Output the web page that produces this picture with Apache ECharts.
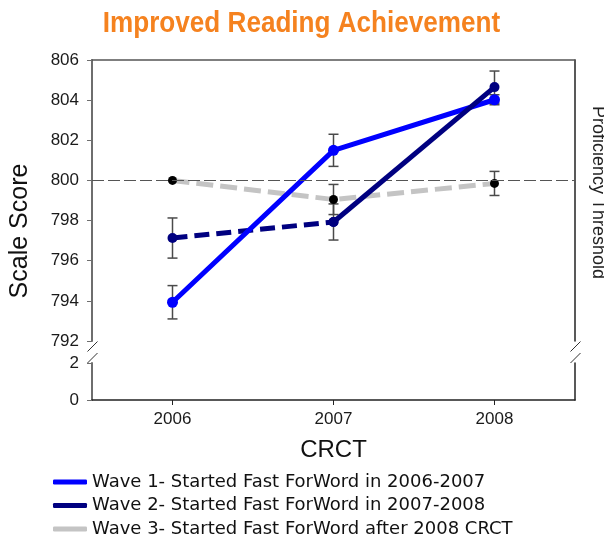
<!DOCTYPE html>
<html>
<head>
<meta charset="utf-8">
<script src="https://cdn.jsdelivr.net/npm/echarts@6/dist/echarts.min.js"></script>
<style>
html,body{margin:0;padding:0;background:#fff;}
#c{width:604px;height:537px;}
</style>
</head>
<body>
<div id="c"></div>
<script>
const titleText = 'Improved Reading Achievement';
const categories = ['2006', '2007', '2008'];
const seriesNames = [
  'Wave 1- Started Fast ForWord in 2006-2007',
  'Wave 2- Started Fast ForWord in 2007-2008',
  'Wave 3- Started Fast ForWord after 2008 CRCT'
];
const wave1 = [793.93, 801.5, 804.02];
const wave1Err = [0.83, 0.8, 0.25];
const wave2 = [797.13, 797.93, 804.65];
const wave2Err = [1.0, 0.9, 0.8];
const wave3 = [800.0, 799.05, 799.85];
const wave3Err = [0, 0.75, 0.6];
const threshold = 800;
const upperTicks = [792, 806, 2];
const lowerTicks = [0, 2, 2];

const FONT = "'Liberation Sans', Arial, sans-serif";
const LEGEND_FONT = "'DejaVu Sans', 'Liberation Sans', sans-serif";
const AX = '#6e6e6e';

const errData = [];
[[wave1, wave1Err], [wave2, wave2Err], [wave3, wave3Err]].forEach(([v, e]) => {
  v.forEach((val, i) => { if (e[i] > 0) errData.push([i, val - e[i], val + e[i]]); });
});

const wave2Dashed = wave2.map((v, i) => i <= 1 ? v : null);
const wave2Solid = wave2.map((v, i) => i >= 1 ? v : null);

const chart = echarts.init(document.getElementById('c'), null, {renderer: 'canvas'});

function slash(cx, cy) {
  return {type: 'line', shape: {x1: cx - 5, y1: cy + 5, x2: cx + 5, y2: cy - 5},
    style: {stroke: '#333', lineWidth: 1}, z: 10};
}

chart.setOption({
  animation: false,
  backgroundColor: '#fff',
  grid: [
    {left: 92, right: 29, top: 60, bottom: 196},
    {left: 92, right: 29, top: 363, bottom: 137}
  ],
  xAxis: [
    {type: 'category', gridIndex: 0, data: categories, position: 'top',
      axisLine: {show: true, lineStyle: {color: '#555', width: 1.5}},
      axisTick: {show: false}, axisLabel: {show: false}, splitLine: {show: false}},
    {type: 'category', gridIndex: 1, data: categories, position: 'bottom',
      axisLine: {show: true, lineStyle: {color: '#222', width: 1.5}},
      axisTick: {show: true, alignWithLabel: true, length: 5, lineStyle: {color: '#222'}},
      axisLabel: {color: '#1a1a1a', fontSize: 17, fontFamily: FONT, margin: 11},
      name: 'CRCT', nameLocation: 'middle', nameGap: 38,
      nameTextStyle: {color: '#111', fontSize: 24, fontFamily: FONT}}
  ],
  yAxis: [
    {type: 'value', gridIndex: 0, min: upperTicks[0], max: upperTicks[1], interval: upperTicks[2],
      axisLine: {show: true, lineStyle: {color: AX, width: 2}},
      axisTick: {show: true, length: 5, lineStyle: {color: AX}},
      axisLabel: {color: '#1a1a1a', fontSize: 17, fontFamily: FONT, margin: 13},
      splitLine: {show: false}},
    {type: 'value', gridIndex: 1, min: lowerTicks[0], max: lowerTicks[1], interval: lowerTicks[2],
      axisLine: {show: true, lineStyle: {color: AX, width: 2}},
      axisTick: {show: true, length: 5, lineStyle: {color: AX}},
      axisLabel: {color: '#1a1a1a', fontSize: 17, fontFamily: FONT, margin: 13},
      splitLine: {show: false}},
    {type: 'value', gridIndex: 0, position: 'right', min: upperTicks[0], max: upperTicks[1],
      axisLine: {show: true, lineStyle: {color: '#222', width: 1.5}},
      axisTick: {show: false}, axisLabel: {show: false}, splitLine: {show: false}},
    {type: 'value', gridIndex: 1, position: 'right', min: lowerTicks[0], max: lowerTicks[1],
      axisLine: {show: true, lineStyle: {color: '#222', width: 1.5}},
      axisTick: {show: false}, axisLabel: {show: false}, splitLine: {show: false}}
  ],
  legend: {
    orient: 'vertical', left: 53, top: 472, height: 90, padding: 0, itemGap: 3.5,
    itemWidth: 34, itemHeight: 5,
    textStyle: {color: '#111', fontSize: 18, fontFamily: LEGEND_FONT, lineHeight: 20},
    selectedMode: false,
    data: [
      {name: seriesNames[0], icon: 'roundRect', itemStyle: {color: '#0000ff'}},
      {name: seriesNames[1], icon: 'roundRect', itemStyle: {color: '#000080'}},
      {name: seriesNames[2], icon: 'roundRect', itemStyle: {color: '#c4c4c4'}}
    ]
  },
  graphic: [
    {type: 'text', x: 301.5, y: 24, scaleX: 0.9,
      style: {text: titleText, fill: '#f5821f', font: 'bold 29px ' + FONT, textAlign: 'center', textVerticalAlign: 'middle'}},
    {type: 'text', x: 20, y: 231, rotation: Math.PI / 2,
      style: {text: 'Scale Score', fill: '#111', font: '25px ' + FONT, textAlign: 'center', textVerticalAlign: 'middle'}},
    {type: 'text', x: 598, y: 106, rotation: -Math.PI / 2,
      style: {text: 'Proficiency Threshold', fill: '#222', font: '18px ' + FONT, textAlign: 'left', textVerticalAlign: 'middle'}},
    {type: 'rect', shape: {x: 86, y: 342, width: 14, height: 20}, style: {fill: '#fff'}, z: 9},
    {type: 'rect', shape: {x: 569, y: 342, width: 14, height: 20}, style: {fill: '#fff'}, z: 9},
    slash(92.5, 346.5), slash(92.5, 358),
    slash(575.5, 346.5), slash(575.5, 358)
  ],
  series: [
    {type: 'custom', name: 'err', xAxisIndex: 0, yAxisIndex: 0, z: 1,
      renderItem: function (params, api) {
        const x = api.value(0);
        const lo = api.coord([x, api.value(1)]);
        const hi = api.coord([x, api.value(2)]);
        const w = 5;
        const st = {stroke: '#4a4a4a', lineWidth: 1.5};
        return {type: 'group', children: [
          {type: 'line', shape: {x1: lo[0], y1: lo[1], x2: hi[0], y2: hi[1]}, style: st},
          {type: 'line', shape: {x1: lo[0] - w, y1: lo[1], x2: lo[0] + w, y2: lo[1]}, style: st},
          {type: 'line', shape: {x1: hi[0] - w, y1: hi[1], x2: hi[0] + w, y2: hi[1]}, style: st}
        ]};
      },
      encode: {x: 0, y: [1, 2]},
      data: errData, silent: true},
    {type: 'line', name: seriesNames[2], xAxisIndex: 0, yAxisIndex: 0, z: 2,
      data: wave3, symbol: 'circle', symbolSize: 9,
      lineStyle: {color: '#c4c4c4', width: 5, type: [17, 7]},
      itemStyle: {color: '#000'},
      markLine: {silent: true, symbol: 'none', label: {show: false},
        lineStyle: {color: '#555', width: 1, type: [12, 4]},
        data: [{yAxis: threshold}]}},
    {type: 'line', name: seriesNames[1], xAxisIndex: 0, yAxisIndex: 0, z: 3,
      data: wave2Dashed, symbol: 'circle', symbolSize: 10,
      lineStyle: {color: '#000080', width: 5, type: [15, 7]},
      itemStyle: {color: '#000080'}},
    {type: 'line', name: seriesNames[0], xAxisIndex: 0, yAxisIndex: 0, z: 4,
      data: wave1, symbol: 'circle', symbolSize: 11,
      lineStyle: {color: '#0000ff', width: 5},
      itemStyle: {color: '#0000ff'}},
    {type: 'line', name: seriesNames[1], xAxisIndex: 0, yAxisIndex: 0, z: 5,
      data: wave2Solid, symbol: 'circle', symbolSize: 10,
      lineStyle: {color: '#000080', width: 5},
      itemStyle: {color: '#000080'}}
  ]
});
</script>
</body>
</html>
